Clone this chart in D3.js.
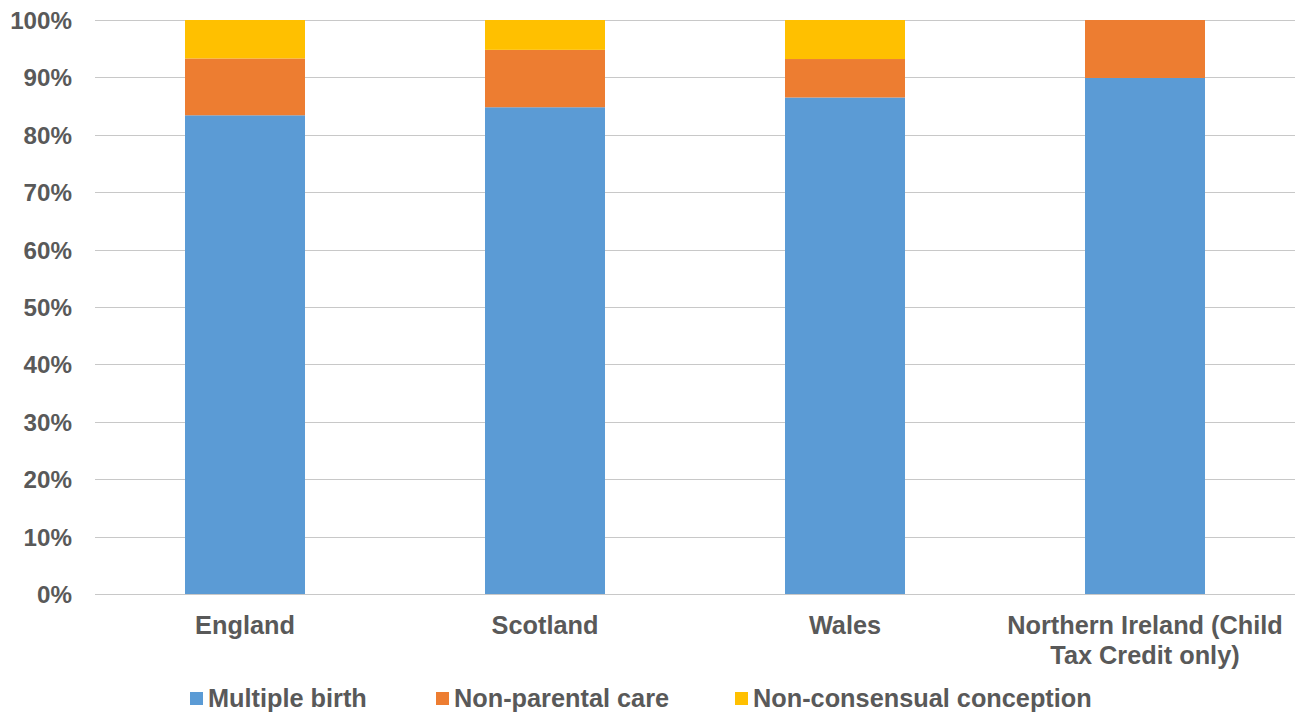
<!DOCTYPE html>
<html>
<head>
<meta charset="utf-8">
<script src="https://cdn.jsdelivr.net/npm/d3@7/dist/d3.min.js"></script>
<style>
  html, body { margin: 0; padding: 0; background: #ffffff; }
  svg text { font-family: "Liberation Sans", Arial, sans-serif; font-weight: bold; fill: #595959; }
</style>
</head>
<body>
<svg id="chart" width="1300" height="715"></svg>
<script>
// Share of exceptions by type, per nation (percent of total)
const categories = ["England", "Scotland", "Wales", "Northern Ireland (Child Tax Credit only)"];
const categoryLines = [["England"], ["Scotland"], ["Wales"], ["Northern Ireland (Child", "Tax Credit only)"]];
const seriesNames = ["Multiple birth", "Non-parental care", "Non-consensual conception"];
const multipleBirth = [83.4, 84.8, 86.5, 89.9];
const nonParentalCare = [9.9, 10.0, 6.7, 10.1];
const nonConsensualConception = [6.7, 5.2, 6.8, 0.0];
const yTicks = [0, 10, 20, 30, 40, 50, 60, 70, 80, 90, 100];
const colors = ["#5b9bd5", "#ed7d31", "#ffc000"];

const svg = d3.select("#chart");
const margin = { left: 95, right: 5, top: 20, bottom: 121 };
const W = 1300, H = 715;

const x = d3.scaleBand().domain(categories).range([margin.left, W - margin.right]).paddingInner(0.6).paddingOuter(0.3);
const y = d3.scaleLinear().domain([0, 100]).range([H - margin.bottom, margin.top]);

// Gridlines
svg.append("g").selectAll("line").data(yTicks).join("line")
  .attr("x1", margin.left).attr("x2", W - margin.right)
  .attr("y1", d => Math.round(y(d)) + 0.5).attr("y2", d => Math.round(y(d)) + 0.5)
  .attr("stroke", "#c8c8c8").attr("stroke-width", 1);

// Y axis labels
const yAxis = d3.axisLeft(y).tickValues(yTicks).tickFormat(d => d + "%").tickSize(0).tickPadding(0);
const gy = svg.append("g").attr("transform", `translate(72,0)`).call(yAxis);
gy.select(".domain").remove();
gy.selectAll("text").attr("font-size", 24.2).attr("dy", "0.35em").attr("font-family", null).attr("fill", null);

// Stacked bars
const rows = categories.map((c, i) => ({
  cat: c,
  [seriesNames[0]]: multipleBirth[i],
  [seriesNames[1]]: nonParentalCare[i],
  [seriesNames[2]]: nonConsensualConception[i]
}));
const stack = d3.stack().keys(seriesNames)(rows);

svg.append("g").selectAll("g").data(stack).join("g")
  .attr("fill", (d, i) => colors[i])
  .selectAll("rect").data(d => d).join("rect")
  .attr("x", d => x(d.data.cat))
  .attr("width", x.bandwidth())
  .attr("y", d => y(d[1]))
  .attr("height", d => y(d[0]) - y(d[1]));

// Category labels
const gx = svg.append("g");
categories.forEach((c, i) => {
  const t = gx.append("text")
    .attr("text-anchor", "middle")
    .attr("font-size", 25.3)
    .attr("x", x(c) + x.bandwidth() / 2)
    .attr("y", 634);
  categoryLines[i].forEach((line, j) => {
    t.append("tspan").attr("x", x(c) + x.bandwidth() / 2).attr("dy", j === 0 ? 0 : 30).text(line);
  });
});

// Legend
const legendX = [190, 436, 735];
const lg = svg.append("g");
seriesNames.forEach((name, i) => {
  lg.append("rect").attr("x", legendX[i]).attr("y", 692).attr("width", 13).attr("height", 13).attr("fill", colors[i]);
  lg.append("text").attr("x", legendX[i] + 18).attr("y", 707).attr("font-size", 25.3).text(name);
});
</script>
</body>
</html>
